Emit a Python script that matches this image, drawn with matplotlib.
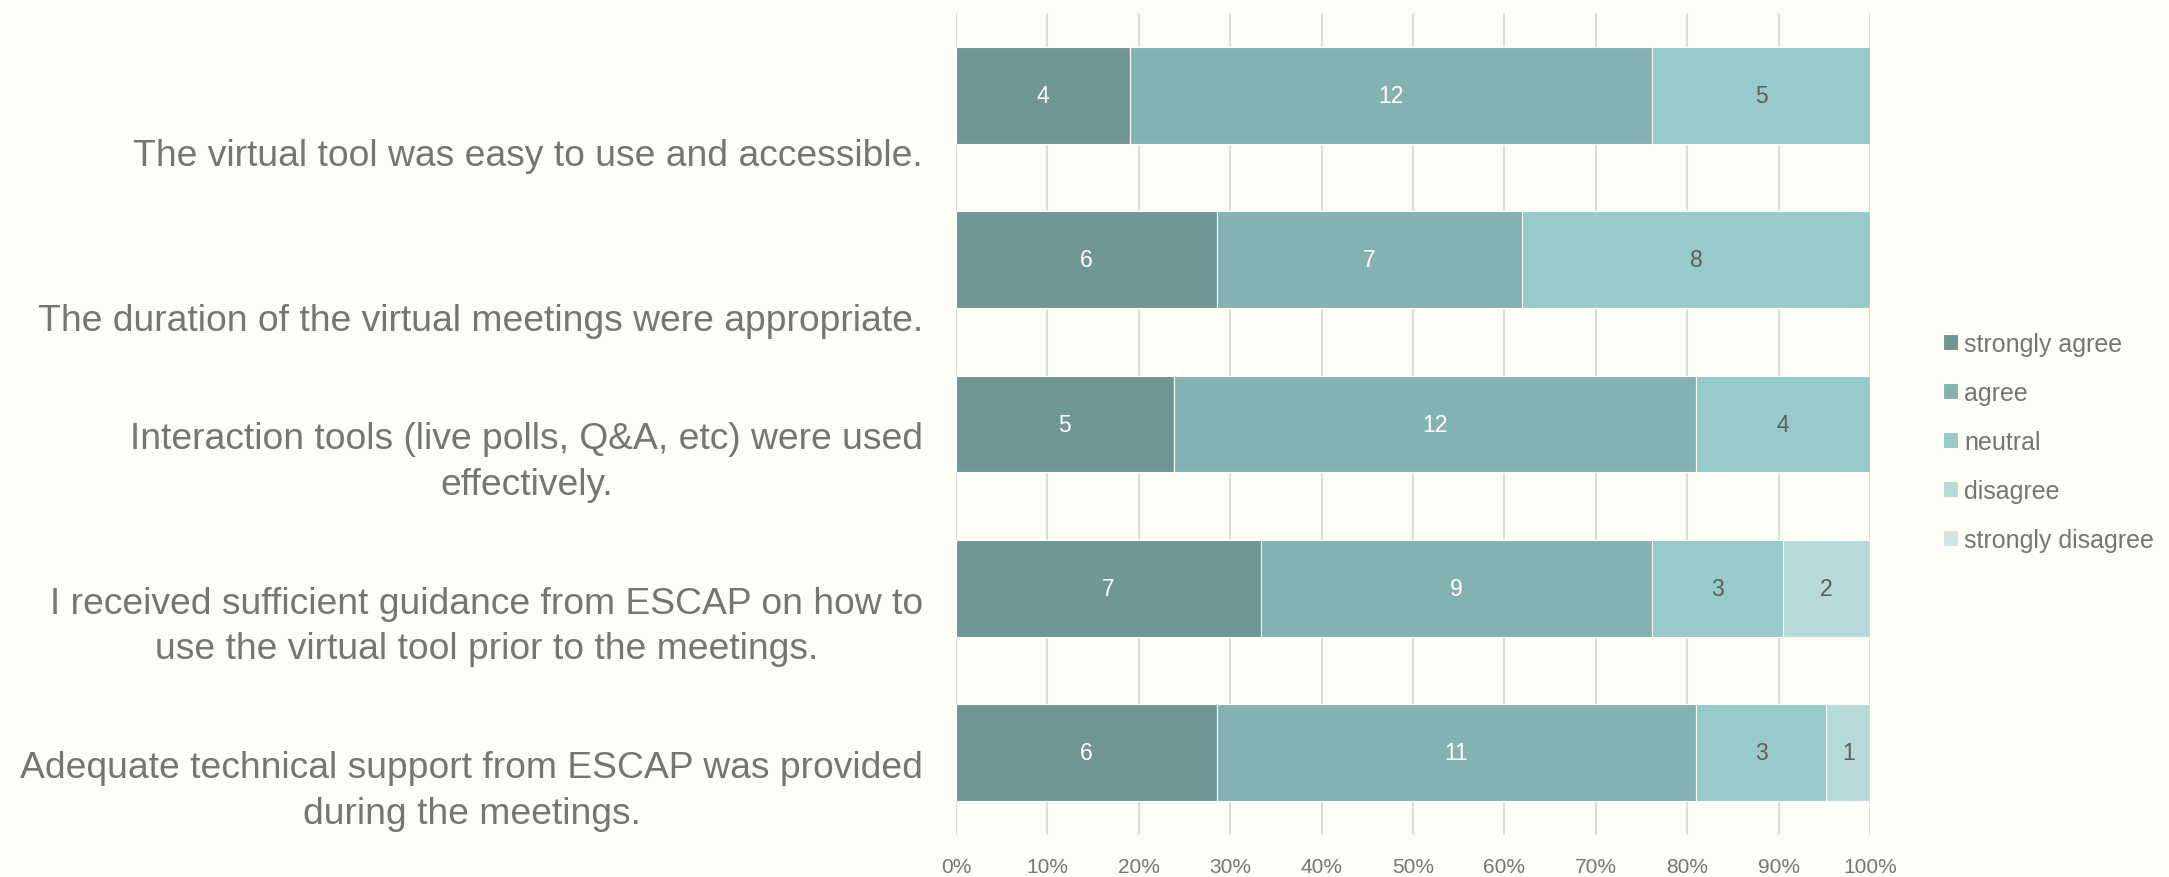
import matplotlib
matplotlib.use("Agg")
import matplotlib.pyplot as plt
import matplotlib.transforms as mtransforms
import numpy as np

plt.rcParams['font.family'] = ['Liberation Sans', 'DejaVu Sans']

categories = [
    "The virtual tool was easy to use and accessible.",
    "The duration of the virtual meetings were appropriate.",
    "Interaction tools (live polls, Q&A, etc) were used\neffectively.",
    "I received sufficient guidance from ESCAP on how to\nuse the virtual tool prior to the meetings.",
    "Adequate technical support from ESCAP was provided\nduring the meetings.",
]
series_names = ["strongly agree", "agree", "neutral", "disagree", "strongly disagree"]
strongly_agree = [4, 6, 5, 7, 6]
agree = [12, 7, 12, 9, 11]
neutral = [5, 8, 4, 3, 3]
disagree = [0, 0, 0, 2, 1]
strongly_disagree = [0, 0, 0, 0, 0]
xtick_labels = ["0%", "10%", "20%", "30%", "40%", "50%", "60%", "70%", "80%", "90%", "100%"]

colors = ["#6e9796", "#84b2b2", "#96cacb", "#b6d9da", "#d0e4e6"]
label_colors = ["white", "white", "#5f5f5a", "#5f5f5a", "#5f5f5a"]
bg = "#fefef6"
txt = "#767670"

data = np.array([strongly_agree, agree, neutral, disagree, strongly_disagree], dtype=float)
totals = data.sum(axis=0)
pct = data / totals

W, H = 2169, 878
fig = plt.figure(figsize=(W / 100, H / 100), dpi=100, facecolor=bg)
ax = fig.add_axes([956 / W, 1 - 836 / H, (1870 - 956) / W, (836 - 14) / H])
ax.set_facecolor(bg)

y = np.arange(len(categories))
left = np.zeros(len(categories))
for i, name in enumerate(series_names):
    ax.barh(y, pct[i], left=left, height=0.59, color=colors[i], label=name,
            edgecolor=bg, linewidth=0.8, zorder=3)
    for j in range(len(categories)):
        if data[i, j] > 0:
            ax.text(left[j] + pct[i, j] / 2, y[j], f"{int(data[i, j])}",
                    ha='center', va='center', fontsize=16.5, color=label_colors[i], zorder=4)
    left += pct[i]

ax.set_ylim(4.5, -0.5)
ax.set_xlim(0, 1)
ax.set_xticks(np.linspace(0, 1, 11))
ax.set_xticklabels(xtick_labels, fontsize=15, color=txt)
ax.set_yticks([])
ax.tick_params(axis='both', length=0)
ax.tick_params(axis='x', pad=16)
ax.grid(axis='x', color='#dedcd7', linewidth=1.5, zorder=0)
for s in ax.spines.values():
    s.set_visible(False)

# category labels: bottom-anchored below each bar centre, right-aligned left of the axes
trans = mtransforms.blended_transform_factory(ax.transAxes, ax.transData)
trans = trans + mtransforms.ScaledTranslation(-33 / 100, -78 / 100, fig.dpi_scale_trans)
for j, lab in enumerate(categories):
    ax.text(0, y[j], lab, transform=trans, ha='right', va='bottom',
            multialignment='center', fontsize=26.8, color=txt, linespacing=1.4)

leg = fig.legend(loc='center left', bbox_to_anchor=(1943 / W, 1 - 443 / H), frameon=False,
                 fontsize=18, labelcolor=txt, handlelength=0.6, handleheight=0.6,
                 handletextpad=0.25, labelspacing=1.0, borderpad=0, borderaxespad=0)

fig.savefig("out.png", dpi=100, facecolor=bg)
